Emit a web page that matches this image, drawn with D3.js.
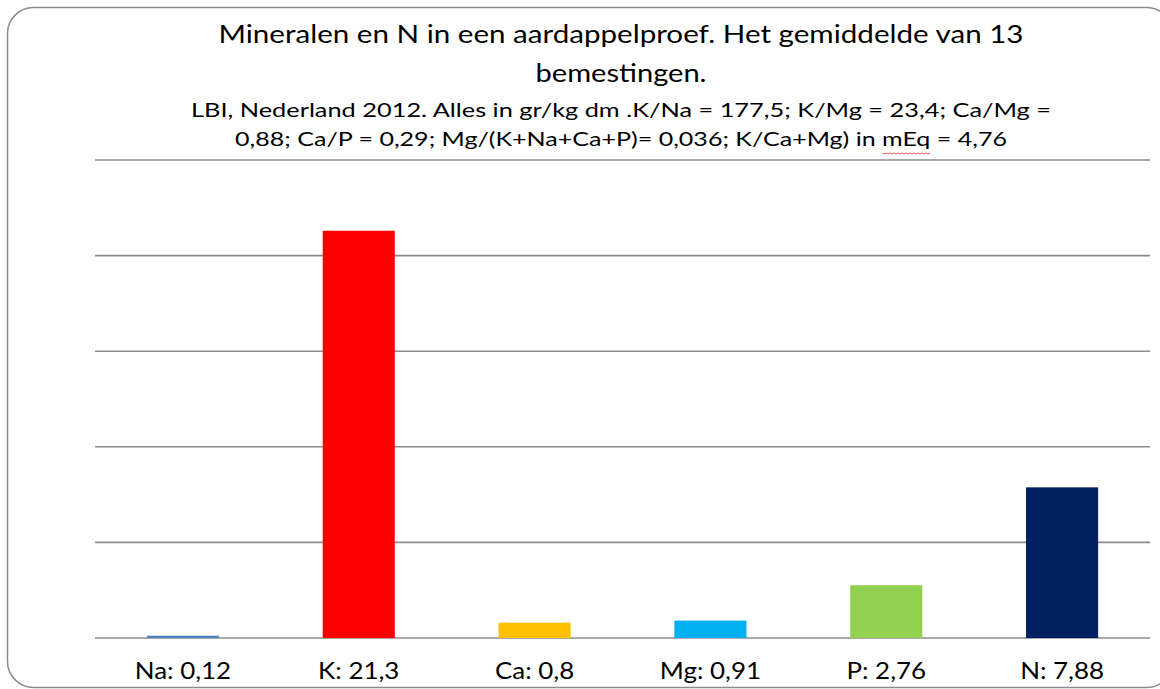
<!DOCTYPE html>
<html><head><meta charset="utf-8">
<script src="https://cdn.jsdelivr.net/npm/d3@7"></script>
<style>body{margin:0;background:#fff}svg{display:block}</style>
</head><body>
<script>
const categories = ["Na: 0,12","K: 21,3","Ca: 0,8","Mg: 0,91","P: 2,76","N: 7,88"];
const values = [0.12, 21.3, 0.8, 0.91, 2.76, 7.88];
const colors = ["#4F81BD","#FF0000","#FFC000","#00B0F0","#92D050","#002060"];
const yTicks = [0,5,10,15,20,25];
const titleLines = ["Mineralen en N in een aardappelproef. Het gemiddelde van 13","bemestingen."];
const subLines = ["LBI, Nederland 2012.  Alles in gr/kg dm .K/Na = 177,5; K/Mg = 23,4; Ca/Mg =",
                  "0,88; Ca/P = 0,29; Mg/(K+Na+Ca+P)= 0,036; K/Ca+Mg) in mEq = 4,76"];

const W=1160,H=689;
const font="Lato";
const svg=d3.select("body").append("svg").attr("width",W).attr("height",H);
svg.append("rect").attr("x",7.5).attr("y",7.5).attr("width",1165).attr("height",680)
  .attr("rx",26).attr("ry",26).attr("fill","#fff").attr("stroke","#8c8c8c").attr("stroke-width",1.5);

const m={left:95,right:1150,top:160,bottom:638};
const x=d3.scaleBand().domain(categories).range([m.left,m.right]).paddingInner(0.59).paddingOuter(0.295);
const y=d3.scaleLinear().domain([0,25]).range([m.bottom,m.top]);

svg.append("g").selectAll("line").data(yTicks).join("line")
  .attr("x1",m.left).attr("x2",m.right).attr("y1",d=>y(d)).attr("y2",d=>y(d))
  .attr("stroke","#8c8c8c").attr("stroke-width",1.6);

svg.append("g").selectAll("rect").data(values).join("rect")
  .attr("x",(d,i)=>x(categories[i])).attr("width",x.bandwidth())
  .attr("y",d=>y(d)).attr("height",d=>y(0)-y(d)).attr("fill",(d,i)=>colors[i]);

const xa=svg.append("g").attr("transform",`translate(0,${m.bottom})`).call(d3.axisBottom(x).tickSize(0).tickPadding(0));
xa.select(".domain").remove();
xa.selectAll("text").attr("dy",null).attr("y",41).attr("font-family",font).attr("font-size",24).attr("fill","#000")
  .each(function(){ const L=this.getComputedTextLength(); d3.select(this).attr("textLength",L*1.08).attr("lengthAdjust","spacingAndGlyphs"); });

const cx=621;
const titleW=[805,171], titleY=[43,82];
svg.selectAll(".t").data(titleLines).join("text").attr("class","t")
  .attr("x",cx).attr("y",(d,i)=>titleY[i]).attr("text-anchor","middle")
  .attr("font-family",font).attr("font-size",25).text(d=>d)
  .attr("textLength",(d,i)=>titleW[i]).attr("lengthAdjust","spacingAndGlyphs");
const subW=[860,772], subY=[117,146];
const subs=svg.selectAll(".s").data(subLines).join("text").attr("class","s")
  .attr("x",cx).attr("y",(d,i)=>subY[i]).attr("text-anchor","middle")
  .attr("font-family",font).attr("font-size",19).text(d=>d);
const naturalLens=[];
subs.each(function(){ naturalLens.push(this.getComputedTextLength()); });
subs.attr("textLength",(d,i)=>subW[i]).attr("lengthAdjust","spacingAndGlyphs");

// spell-check squiggle under "mEq"
const s2=subs.nodes()[1];
const idx=subLines[1].indexOf("mEq");
const k=subW[1]/naturalLens[1];
s2.removeAttribute("textLength");
const pre=s2.getSubStringLength(0,idx), wlen=s2.getSubStringLength(idx,3);
s2.setAttribute("textLength",subW[1]);
const x0=cx-subW[1]/2+pre*k, x1=x0+wlen*k;
const pts=[]; for(let xx=x0, j=0; xx<=x1; xx+=2, j++) pts.push([xx, 153+(j%2?1:0)]);
svg.append("path").attr("d",d3.line()(pts)).attr("fill","none").attr("stroke","#e03030").attr("stroke-width",0.8);
</script>
</body></html>
